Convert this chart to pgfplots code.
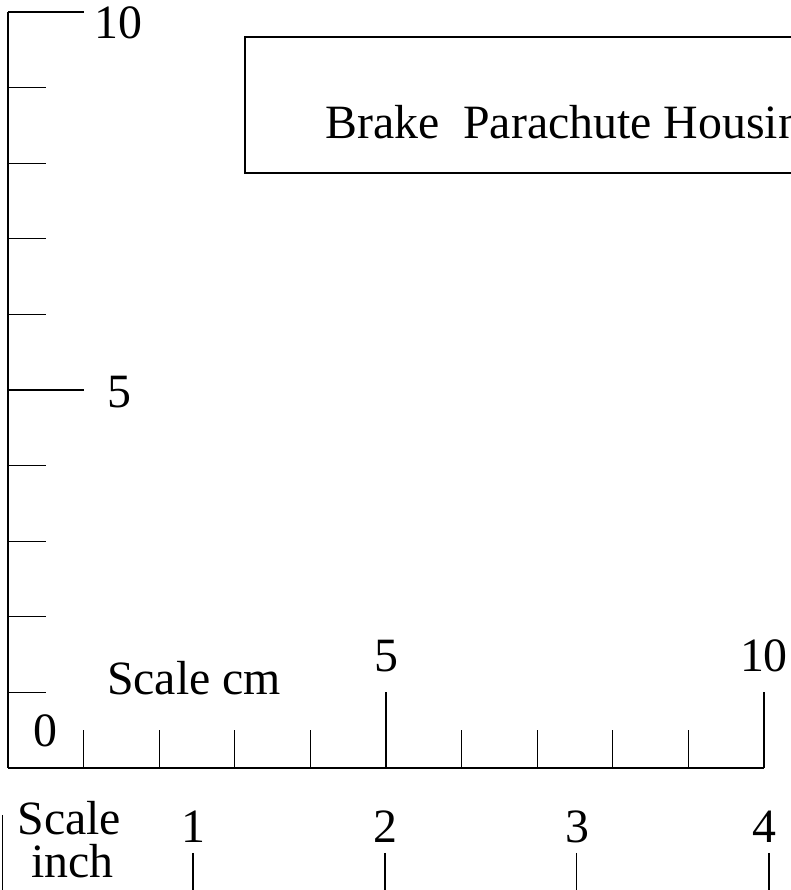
\documentclass[border=0pt]{standalone}
\usepackage{fontspec}
\setmainfont{Liberation Serif}
\usepackage{pgfplots}
\pgfplotsset{compat=1.18}

\begin{document}
\begin{tikzpicture}[every node/.append style={font=\rmfamily\fontsize{18}{21}\selectfont, inner sep=0pt}]
\begin{axis}[
  x=1cm, y=1cm,
  xmin=0, xmax=10, ymin=0, ymax=10,
  axis x line=bottom, axis y line=left,
  axis line style={-, line width=0.7pt},
  xtick={5,10}, ytick={5,10},
  minor xtick={1,2,3,4,6,7,8,9}, minor ytick={1,2,3,4,6,7,8,9},
  xticklabels={}, yticklabels={},
  tick align=inside,
  major tick length=1cm, minor tick length=0.5cm,
  tick style={black, line width=0.4pt},
  clip=false,
]
% inch scale (1 in = 2.54 cm), shifted slightly left of the cm origin
\addplot[black, line width=0.4pt] coordinates {(-0.07,-0.62) (-0.07,-1.8)};
\addplot[black, line width=0.4pt] coordinates {(2.447,-1.124) (2.447,-1.8)};
\addplot[black, line width=0.4pt] coordinates {(4.987,-1.124) (4.987,-1.8)};
\addplot[black, line width=0.4pt] coordinates {(7.526,-1.124) (7.526,-1.8)};
\addplot[black, line width=0.4pt] coordinates {(10.066,-1.124) (10.066,-1.8)};

% label box, runs off the right edge
\addplot[black, line width=0.6pt] coordinates {(12,9.67) (3.135,9.67) (3.135,7.87) (12,7.87)};
\node[anchor=base west] at (axis cs:4.19,8.33) {Brake\ \ Parachute Housing};

% vertical scale labels
\node[anchor=base] at (axis cs:1.46,9.656) {10};
\node[anchor=base] at (axis cs:1.48,4.775) {5};

% cm scale labels
\node[anchor=base] at (axis cs:0.49,0.278) {0};
\node[anchor=base] at (axis cs:2.46,0.966) {Scale cm};
\node[anchor=base] at (axis cs:5.0,1.27) {5};
\node[anchor=base] at (axis cs:10.0,1.27) {10};

% inch scale labels
\node[anchor=base] at (axis cs:0.81,-0.886) {Scale};
\node[anchor=base] at (axis cs:0.85,-1.455) {inch};
\node[anchor=base] at (axis cs:2.447,-0.99) {1};
\node[anchor=base] at (axis cs:4.987,-0.99) {2};
\node[anchor=base] at (axis cs:7.526,-0.99) {3};
\node[anchor=base] at (axis cs:10.01,-0.99) {4};

\coordinate (bbsw) at (axis cs:-0.106,-1.614);
\coordinate (bbne) at (axis cs:10.357,10.159);
\end{axis}
\pgfresetboundingbox
\useasboundingbox (bbsw) rectangle (bbne);
\end{tikzpicture}
\end{document}
